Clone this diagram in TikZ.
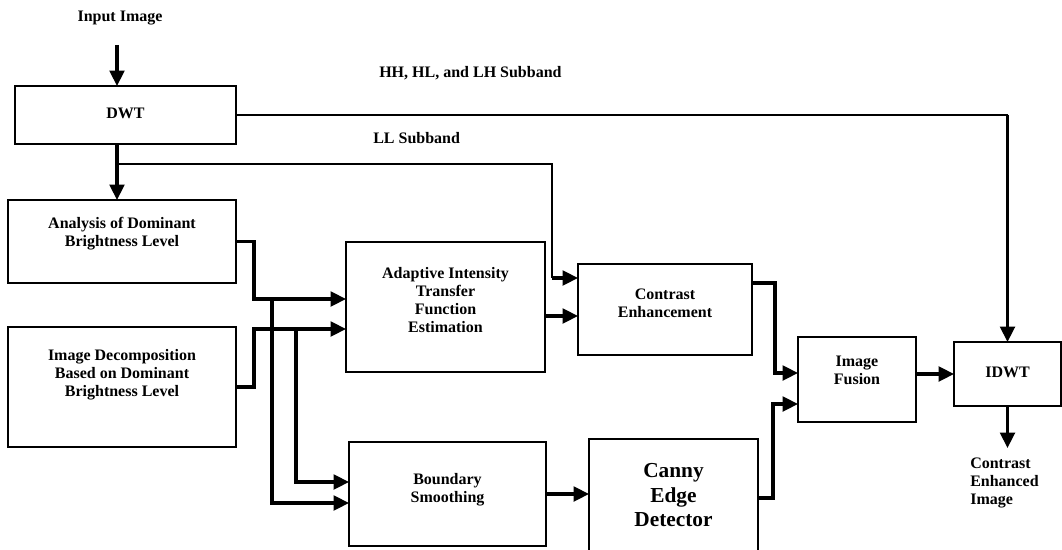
\documentclass[tikz,border=0pt]{standalone}
\usepackage{fontspec}
\setmainfont{Liberation Serif}
\usetikzlibrary{arrows.meta, positioning, calc}

\begin{document}
\begin{tikzpicture}[x=0.75pt, y=-0.75pt, font=\fontsize{12}{13.5}\selectfont\bfseries, every label/.style={align=center, inner sep=0pt}]
    \tikzstyle{blk} = [rectangle, draw=black, line width=1.5pt, inner sep=0pt, outer sep=0pt, align=center]
    \tikzstyle{flow} = [-{Triangle[length=11.5pt, width=11pt]}, line width=2.3pt]
    \tikzstyle{bus} = [line width=1pt]
    \tikzstyle{tag} = [inner sep=0pt, anchor=west]

    \useasboundingbox (0,0) rectangle (1062,549);

    \node (inp) at (120,18) {Input Image};
    \coordinate (spine) at (117,45);
    \node (dwt) [blk, minimum width=165.75pt, minimum height=43.5pt, label={[yshift=1.5pt]center:DWT}] at (125.5,115) {};
    \node (ana) [blk, minimum width=171pt, minimum height=62.25pt, label={[yshift=5.6pt]center:{Analysis of Dominant\\Brightness Level}}] at (122,241.5) {};
    \node (dec) [blk, minimum width=171pt, minimum height=90pt, label={[yshift=9pt]center:{Image Decomposition\\Based on Dominant\\Brightness Level}}] at (122,387) {};
    \node (aitf) [blk, minimum width=149.25pt, minimum height=97.5pt, label={[yshift=4.9pt]center:{Adaptive Intensity\\Transfer\\Function\\Estimation}}] at (445.5,307) {};
    \node (ce) [blk, minimum width=130.5pt, minimum height=68.25pt, label={[yshift=4.5pt]center:{Contrast\\Enhancement}}] at (665,309.5) {};
    \node (bs) [blk, minimum width=147.75pt, minimum height=78pt, label={[yshift=3.4pt]center:{Boundary\\Smoothing}}] at (447.5,494) {};
    \node (ced) [blk, minimum width=126.75pt, minimum height=84.75pt, font=\fontsize{16}{18.4}\selectfont\bfseries] at (673.5,495.5) {Canny\\Edge\\Detector};
    \node (fus) [blk, minimum width=88.5pt, minimum height=63.75pt, label={[yshift=6.75pt]center:{Image\\Fusion}}] at (857,379.5) {};
    \node (idwt) [blk, minimum width=80.25pt, minimum height=48pt, label={[yshift=1.5pt]center:IDWT}] at (1007.5,374) {};
    \node (out) [anchor=north west, align=left, inner sep=0pt] at (970,458) {Contrast\\Enhanced\\Image};
    \node (hh) [tag] at (379,73) {HH, HL, and LH Subband};
    \node (ll) [tag] at (373,138) {LL Subband};

    % DWT in and out
    \draw [flow] (spine) -- (spine |- dwt.north);
    \draw [flow] (spine |- dwt.south) -- (spine |- ana.north);
    \draw [bus] (dwt.east) -- (dwt.east -| idwt.north) coordinate (hhturn);
    \draw [flow] (hhturn) -- (idwt.north);

    % LL subband to contrast enhancement
    \coordinate (llsplit) at (117,164);
    \coordinate (lltap) at (552,278);
    \draw [bus] (llsplit) -| (lltap);
    \draw [flow] (lltap) -- (lltap -| ce.west);

    % brightness analysis feeds
    \draw [flow] (ana.east) -- ++(18,0) |- ($(aitf.west)+(0,-8)$);
    \draw [flow] (dec.east) -- ++(18,0) |- ($(aitf.west)+(0,22)$);
    \coordinate (tapA) at (272,299);
    \coordinate (tapB) at (296,329);
    \draw [flow] (tapA) |- ($(bs.west)+(0,9)$);
    \draw [flow] (tapB) |- ($(bs.west)+(0,-12)$);

    % right half
    \draw [flow] ($(aitf.east)+(0,9)$) -- ($(ce.west)+(0,6.5)$);
    \draw [flow] (bs.east) -- (bs.east -| ced.west);
    \draw [flow] ($(ce.east)+(0,-26.5)$) -- ++(23,0) |- ($(fus.west)+(0,-6.5)$);
    \draw [flow] ($(ced.east)+(0,2.5)$) -- ++(15,0) |- ($(fus.west)+(0,24.5)$);
    \draw [flow] (fus.east |- idwt.west) -- (idwt.west);
    \draw [flow, shorten >=7.5pt] (idwt.south) -- (idwt.south |- out.north);
\end{tikzpicture}
\end{document}
